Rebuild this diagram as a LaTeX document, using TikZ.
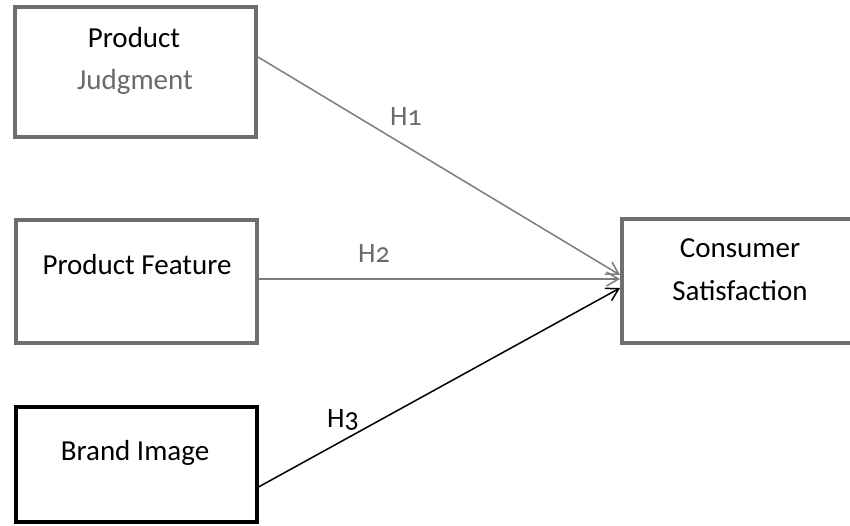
\documentclass[tikz,border=0pt]{standalone}
\usepackage{fontspec}
\setmainfont{Carlito}
\newfontfamily\hfont[Numbers=OldStyle]{Carlito}
\usepackage{tikz}
\usetikzlibrary{arrows.meta}
\usetikzlibrary{positioning}
\usetikzlibrary{calc}
\definecolor{boxgray}{HTML}{6E6E6E}
\definecolor{linegray}{HTML}{7C7C7C}
\definecolor{txtgray}{HTML}{6A6A6A}

\begin{document}
\begin{tikzpicture}[x=1pt,y=-1pt]
          \useasboundingbox (0,0) rectangle (850,526);
          \clip (0,0) rectangle (850,526);
          \begin{scope}[every node/.style={draw=boxgray,line width=4pt,inner sep=0pt,minimum width=241pt}]
            \node[minimum height=130pt] (pj) at (135.5,72) {};
            \node[minimum height=123pt] (pf) at (136,281.5) {};
            \node[draw=black,minimum height=115pt] (bi) at (136,464.5) {};
            \node[minimum height=124pt,minimum width=236pt] (cs) at (740,281) {};
          \end{scope}
          \begin{scope}[every node/.style={anchor=base,inner sep=0pt,font=\fontsize{29}{34}\selectfont}]
            \node (pjtop) at (134,48) {Product};
            \node[text=txtgray] (pjbot) at (135,90) {Judgment};
            \node (pftext) at (137,275) {Product Feature};
            \node (bitext) at (135,460) {Brand Image};
            \node (cstop) at (740,258) {Consumer};
            \node (csbot) at (740,300) {Satisfaction};
          \end{scope}
          \begin{scope}[every node/.style={anchor=base west,inner sep=0pt,font=\hfont\fontsize{28}{34}\selectfont}]
            \node[text=txtgray] (h1) at (390,126) {H1};
            \node[text=txtgray] (h2) at (358,263) {H2};
            \node (h3) at (327,427) {H3};
          \end{scope}
          \begin{scope}[every edge/.style={draw=linegray,line width=1.5pt,-{Straight Barb[length=12pt,width=14pt]}}]
            \path ([yshift=15pt]pj.east) edge ([yshift=6pt]cs.west);
            \path ([yshift=2.5pt]pf.east) edge ([yshift=2pt]cs.west);
            \path ([yshift=-22.5pt]bi.east) edge[draw=black] ([yshift=-7pt]cs.west);
          \end{scope}
        \end{tikzpicture}
\end{document}
